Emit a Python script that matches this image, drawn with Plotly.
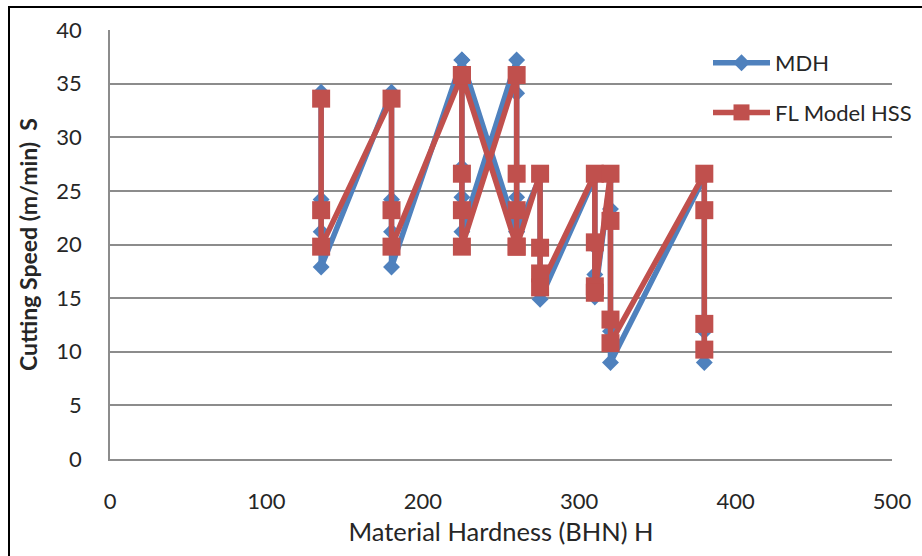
import plotly.graph_objects as go

# ---- data ----
mdh_hardness = [135, 135, 135, 135,
                180, 180, 180, 180,
                225, 225, 225, 225,
                260, 260, 260, 260,
                225, 260,
                275, 275, 275, 275,
                310, 310, 310, 310,
                320, 320, 320, 320,
                380, 380, 380, 380]
mdh_speed = [34.2, 24.2, 21.2, 17.9,
             34.2, 24.2, 21.2, 17.9,
             37.2, 27.2, 24.4, 21.2,
             37.2, 34.1, 24.4, 21.2,
             37.2, 21.2,
             26.3, 19.5, 17.0, 14.9,
             26.3, 19.8, 17.2, 15.1,
             26.3, 23.3, 11.9, 9.0,
             26.3, 23.1, 11.9, 9.0]

fl_hardness = [135, 135, 135,
               180, 180, 180,
               225, 225, 225, 225,
               260, 260, 260, 260,
               225, 260,
               275, 275, 275, 275,
               310, 310, 310, 310,
               320, 320, 320, 320,
               380, 380, 380, 380]
fl_speed = [33.6, 23.2, 19.8,
            33.6, 23.2, 19.8,
            35.8, 26.6, 23.2, 19.8,
            35.8, 26.6, 23.2, 19.8,
            35.8, 19.8,
            26.6, 19.7, 17.3, 16.0,
            26.6, 20.2, 16.1, 15.5,
            26.6, 22.2, 13.0, 10.8,
            26.6, 23.2, 12.6, 10.2]

x_ticks = [0, 100, 200, 300, 400, 500]
y_ticks = [0, 5, 10, 15, 20, 25, 30, 35, 40]

BLUE = "#4F81BD"
RED = "#C0504D"
FONT = "Lato"
TXT = "#262626"
GRID = "#8C8C8C"

fig = go.Figure()
fig.add_trace(go.Scatter(
    x=mdh_hardness, y=mdh_speed, name="MDH", mode="lines+markers",
    line=dict(color=BLUE, width=5.5),
    marker=dict(symbol="diamond", size=13, color=BLUE),
    legendgroup="a",
))
fig.add_trace(go.Scatter(
    x=fl_hardness, y=fl_speed, name="FL Model HSS", mode="lines+markers",
    line=dict(color=RED, width=5.5),
    marker=dict(symbol="square", size=18, color=RED),
    legendgroup="b",
))

L, R, T, B = 110, 30, 30, 96.5
W, H = 922, 556
pw, ph = W - L - R, H - T - B

fig.update_layout(
    width=W, height=H,
    margin=dict(l=L, r=R, t=T, b=B, pad=0, autoexpand=False),
    paper_bgcolor="white", plot_bgcolor="white",
    font=dict(family=FONT, size=22, color=TXT),
    showlegend=True,
    legend=dict(
        x=(708 - L) / pw, y=1 - (42 - T) / ph, xanchor="left", yanchor="top",
        bgcolor="rgba(0,0,0,0)", borderwidth=0,
        font=dict(family=FONT, size=22, color=TXT),
        traceorder="grouped", tracegroupgap=18, itemwidth=57,
    ),
    xaxis=dict(
        range=[0, 500], tickvals=x_ticks, ticktext=[str(v) for v in x_ticks],
        showgrid=False, zeroline=False, automargin=False,
        showline=True, linecolor=GRID, linewidth=1.5,
        ticks="", ticklabelstandoff=22,
        tickfont=dict(family=FONT, size=22, color=TXT),
        title=dict(text="Material Hardness (BHN) H", standoff=10,
                   font=dict(family=FONT, size=25.5, color=TXT)),
    ),
    yaxis=dict(
        range=[0, 40], tickvals=y_ticks, ticktext=[str(v) for v in y_ticks],
        showgrid=True, gridcolor=GRID, gridwidth=1.5, zeroline=False,
        automargin=False,
        showline=True, linecolor=GRID, linewidth=1.5,
        ticks="", ticklabelstandoff=22,
        tickfont=dict(family=FONT, size=22, color=TXT),
        title=dict(text="<b>Cutting Speed (m/min)\u00a0\u00a0S</b>", standoff=12,
                   font=dict(family=FONT, size=23, color=TXT)),
    ),
    shapes=[dict(
        type="rect", xref="paper", yref="paper",
        x0=(9 - L) / pw, x1=(W + 20 - L) / pw,
        y0=-(H + 20 - T - ph) / ph, y1=1 + (T - 7) / ph,
        line=dict(color="black", width=2), fillcolor="rgba(0,0,0,0)",
        layer="below",
    )],
)

fig.write_html("out.html",
               config={"displayModeBar": False},
               post_script="document.body.style.margin='0';document.body.style.overflow='hidden';")
